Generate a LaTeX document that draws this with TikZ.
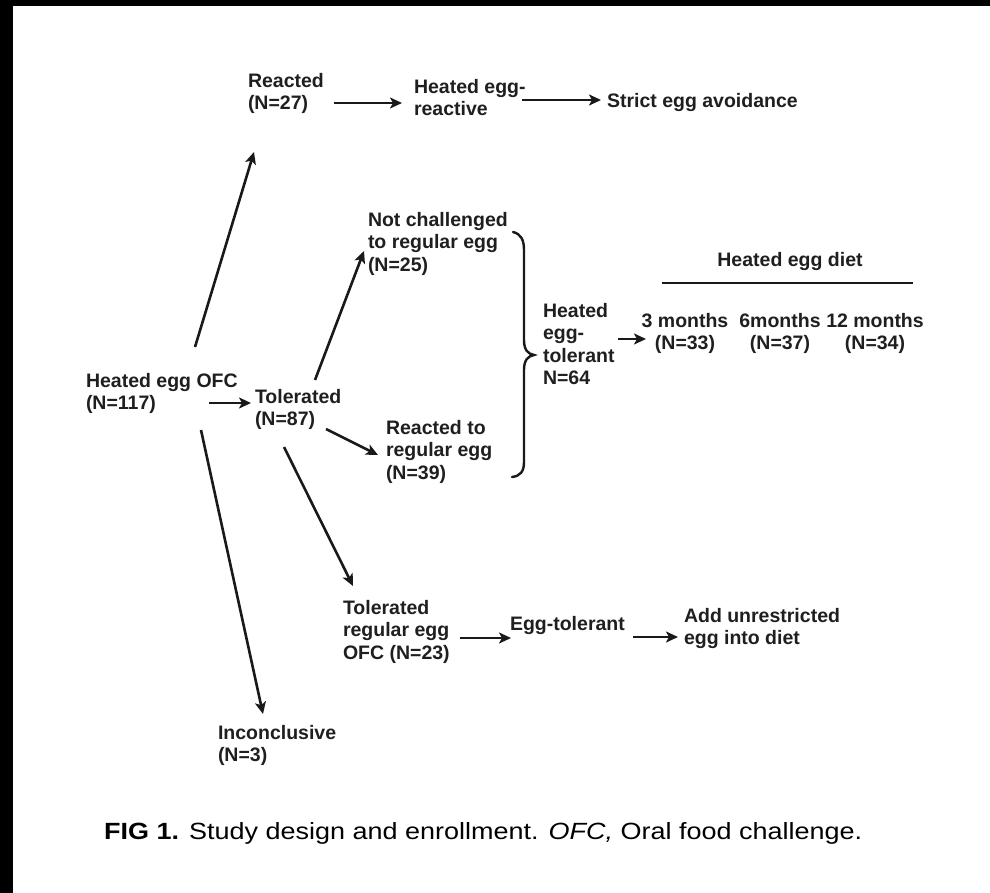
\documentclass[tikz,border=0pt]{standalone}
\usepackage{fontspec}
\setmainfont{Liberation Sans}
\usetikzlibrary{arrows.meta}
\begin{document}
\begin{tikzpicture}[x=1pt,y=-1pt,
  lbl/.style={inner sep=0pt, outer sep=0pt,
    font=\fontsize{19.5}{22.5}\selectfont\bfseries, text=black!88, align=left},
  flow/.style={-{Stealth[length=12pt,width=11pt,inset=3pt]}, line width=2.6pt, draw=black!90},
  rule/.style={line width=2.6pt, draw=black!90},
]
\useasboundingbox (0,0) rectangle (990,893);
\fill[white] (0,0) rectangle (990,893);
% frame edges
\fill[black] (0,0) rectangle (990,6);
\fill[black] (0,0) rectangle (13,893);

% text nodes
\node[lbl, anchor=north west] (ofc)    at (86,373)  {Heated egg OFC\\(N=117)};
\node[lbl, anchor=north west] (tol)    at (255,389) {Tolerated\\(N=87)};
\node[lbl, anchor=north west] (rea)    at (248,73)  {Reacted\\(N=27)};
\node[lbl, anchor=north west] (her)    at (414,79)  {Heated egg-\\reactive};
\node[lbl, anchor=north west] (strict) at (607,93)  {Strict egg avoidance};
\node[lbl, anchor=north west] (nc)     at (368,212) {Not challenged\\to regular egg\\(N=25)};
\node[lbl, anchor=north west] (rr)     at (386,420) {Reacted to\\regular egg\\(N=39)};
\node[lbl, anchor=north west] (het)    at (543,303) {Heated\\egg-\\tolerant\\N=64};
\node[lbl, anchor=north] (diet)        at (790,252) {Heated egg diet};
\node[lbl, anchor=north, align=center] (m3)  at (685,313) {3 months\\(N=33)};
\node[lbl, anchor=north, align=center] (m6)  at (780,313) {6months\\(N=37)};
\node[lbl, anchor=north, align=center] (m12) at (875,313) {12 months\\(N=34)};
\node[lbl, anchor=north west] (treg)   at (343,600) {Tolerated\\regular egg\\OFC (N=23)};
\node[lbl, anchor=north west] (egt)    at (510,616) {Egg-tolerant};
\node[lbl, anchor=north west] (add)    at (684,608) {Add unrestricted\\egg into diet};
\node[lbl, anchor=north west] (inc)    at (218,725) {Inconclusive\\(N=3)};

% connector end points
\coordinate (ofcUp)   at (195,347);  \coordinate (reaIn)  at (254,152);
\coordinate (reaOut)  at (334,103);  \coordinate (herIn)  at (402,103);
\coordinate (herOut)  at (522,100);  \coordinate (strIn)  at (601,100);
\coordinate (ofcOut)  at (209,403);  \coordinate (tolIn)  at (251,403);
\coordinate (ofcDn)   at (201,430);  \coordinate (incIn)  at (263,714);
\coordinate (tolUp)   at (315,380);  \coordinate (ncIn)   at (364,251);
\coordinate (tolRt)   at (326,429);  \coordinate (rrIn)   at (378,455);
\coordinate (tolDn)   at (284,447);  \coordinate (tregIn) at (353,586);
\coordinate (hetOut)  at (618,339);  \coordinate (m3In)   at (646,339);
\coordinate (tregOut) at (460,638);  \coordinate (egtIn)  at (511,638);
\coordinate (egtOut)  at (633,637);  \coordinate (addIn)  at (678,637);
\coordinate (dietL)   at (662,283);  \coordinate (dietR)  at (913,283);

% connectors
\draw[flow] (ofcUp) -- (reaIn);
\draw[flow] (reaOut) -- (herIn);
\draw[flow] (herOut) -- (strIn);
\draw[flow] (ofcOut) -- (tolIn);
\draw[flow] (ofcDn) -- (incIn);
\draw[flow] (tolUp) -- (ncIn);
\draw[flow] (tolRt) -- (rrIn);
\draw[flow] (tolDn) -- (tregIn);
\draw[flow] (hetOut) -- (m3In);
\draw[flow] (tregOut) -- (egtIn);
\draw[flow] (egtOut) -- (addIn);
\draw[rule] (dietL) -- (dietR);

% curly brace grouping the two heated-egg-tolerant branches
\draw[line width=2.4pt, draw=black!90, line cap=round]
  (513,232) .. controls (521,234) and (524,240) .. (524,250)
  -- (524,340) .. controls (524,350) and (528,354) .. (534,355)
  .. controls (528,356) and (524,360) .. (524,370)
  -- (524,462) .. controls (524,472) and (520,476) .. (512,477);

% caption
\node[anchor=west, inner sep=0pt] (cap) at (104,833)
  {\resizebox{758pt}{17pt}{\textbf{FIG 1.} Study design and enrollment. \textit{OFC,} Oral food challenge.}};
\end{tikzpicture}
\end{document}
